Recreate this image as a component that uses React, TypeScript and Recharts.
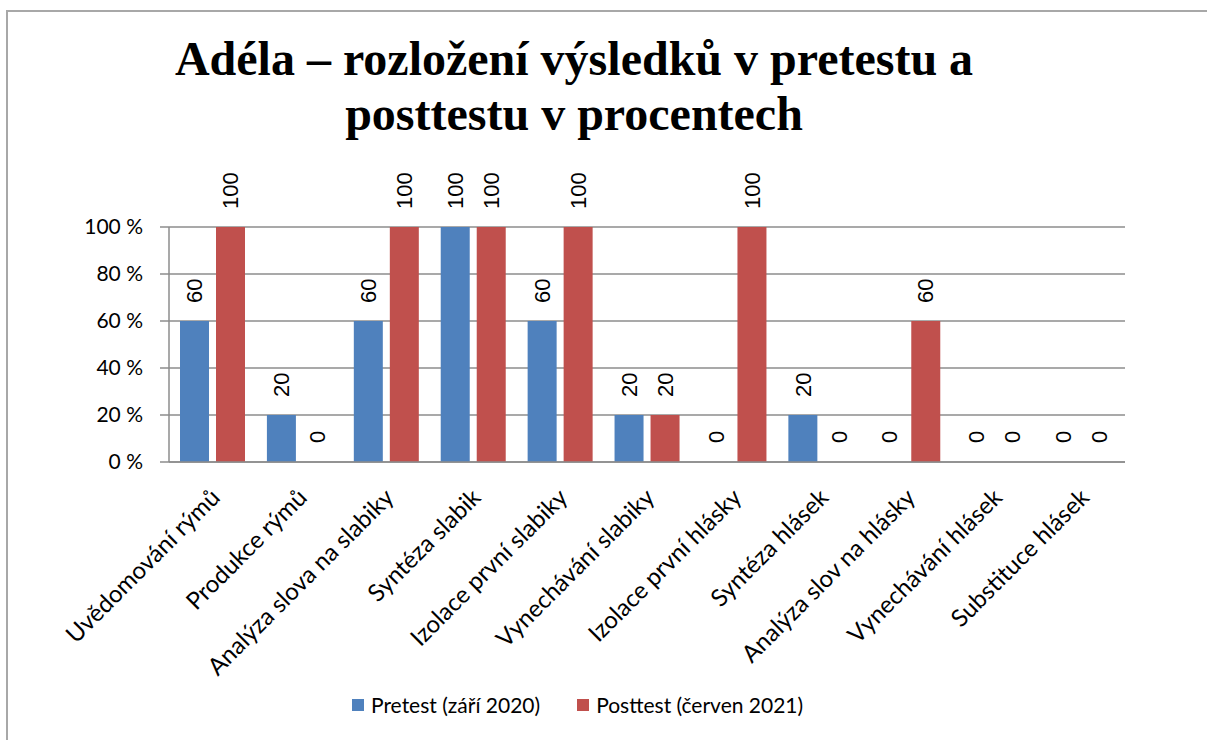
import React from 'react';
import { BarChart, Bar, XAxis, YAxis, CartesianGrid, Legend, LabelList, Rectangle } from 'recharts';

const categories = [
  'Uvědomování rýmů',
  'Produkce rýmů',
  'Analýza slova na slabiky',
  'Syntéza slabik',
  'Izolace první slabiky',
  'Vynechávání slabiky',
  'Izolace první hlásky',
  'Syntéza hlásek',
  'Analýza slov na hlásky',
  'Vynechávání hlásek',
  'Substituce hlásek',
];
const pretest = [60, 20, 60, 100, 60, 20, 0, 20, 0, 0, 0];
const posttest = [100, 0, 100, 100, 100, 20, 100, 0, 60, 0, 0];
const yTicks = [0, 20, 40, 60, 80, 100];
const seriesNames = ['Pretest (září 2020)', 'Posttest (červen 2021)'];
const titleLines = ['Adéla – rozložení výsledků v pretestu a', 'posttestu v procentech'];

const BLUE = '#4F81BD';
const RED = '#C0504D';
const GRID = '#8c8c8c';
const SANS = 'Lato, "Open Sans", sans-serif';

const data = categories.map((name, i) => ({ name, pre: pretest[i], post: posttest[i] }));

const XTick = (props: any) => {
  const { x, y, payload } = props;
  const px = x + 9;
  const py = y + 29;
  return (
    <text
      x={px}
      y={py}
      transform={`rotate(-45, ${px}, ${py})`}
      textAnchor="end"
      fontFamily={SANS}
      fontSize={24}
      fill="#000"
    >
      {payload.value}
    </text>
  );
};

// zero values get a 1px min bar so the label still shows, but the bar itself is hidden
const barShape = (props: any) => {
  if (!props.value) return <g />;
  return <Rectangle {...props} />;
};

const barLabel = (props: any) => {
  const { x, y, width, value } = props;
  const cx = x + width / 2;
  const cy = y - 18;
  return (
    <text
      x={cx}
      y={cy}
      dy="0.35em"
      transform={`rotate(-90, ${cx}, ${cy})`}
      textAnchor="start"
      fontFamily="'Liberation Sans', Arial, sans-serif"
      fontSize={22}
      fill="#000"
    >
      {value}
    </text>
  );
};

const legendContent = () => (
  <div style={{ display: 'flex', alignItems: 'center', fontFamily: SANS, fontSize: 21, color: '#000' }}>
    {seriesNames.map((n, i) => (
      <div key={n} style={{ display: 'flex', alignItems: 'center', marginRight: 37 }}>
        <span style={{ width: 12, height: 12, background: i === 0 ? BLUE : RED, marginRight: 7 }} />
        <span>{n}</span>
      </div>
    ))}
  </div>
);

export default function App() {
  return (
    <div style={{ position: 'absolute', left: 0, top: 0, width: 1207, height: 740, background: '#fff', overflow: 'hidden' }}>
      <div
        style={{
          position: 'absolute',
          left: 6,
          top: 10,
          width: 1300,
          height: 900,
          borderLeft: '2px solid #a8a8a8',
          borderTop: '2px solid #a8a8a8',
        }}
      />
      <div
        style={{
          position: 'absolute',
          left: 0,
          top: 31,
          width: 1148,
          textAlign: 'center',
          fontFamily: '"Liberation Serif", "Times New Roman", serif',
          fontWeight: 'bold',
          fontSize: 48,
          lineHeight: '55px',
          color: '#000',
          whiteSpace: 'nowrap',
        }}
      >
        {titleLines.map((l) => (
          <div key={l}>{l}</div>
        ))}
      </div>
      <div style={{ position: 'absolute', left: 0, top: 0 }}>
        <BarChart
          width={1207}
          height={740}
          data={data}
          margin={{ top: 227, right: 82, left: 0, bottom: 78 }}
          barCategoryGap={11}
          barGap={7}
        >
          <CartesianGrid vertical={false} stroke={GRID} strokeWidth={1.5} />
          <XAxis
            dataKey="name"
            interval={0}
            height={200}
            tickLine={false}
            axisLine={{ stroke: GRID, strokeWidth: 1.5 }}
            tick={<XTick />}
          />
          <YAxis
            width={169}
            domain={[0, 100]}
            ticks={yTicks}
            tickFormatter={(v: number) => `${v} %`}
            tickSize={9}
            tickMargin={17}
            tickLine={{ stroke: GRID, strokeWidth: 1.5 }}
            axisLine={{ stroke: GRID, strokeWidth: 1.5 }}
            tick={{ fontFamily: SANS, fontSize: 21, fill: '#000' }}
          />
          <Legend
            verticalAlign="middle"
            align="center"
            layout="horizontal"
            content={legendContent}
            wrapperStyle={{ top: 692, left: 352, width: 'auto' }}
          />
          <Bar dataKey="pre" name={seriesNames[0]} fill={BLUE} minPointSize={1} shape={barShape} isAnimationActive={false}>
            <LabelList dataKey="pre" content={barLabel} />
          </Bar>
          <Bar dataKey="post" name={seriesNames[1]} fill={RED} minPointSize={1} shape={barShape} isAnimationActive={false}>
            <LabelList dataKey="post" content={barLabel} />
          </Bar>
        </BarChart>
      </div>
    </div>
  );
}
